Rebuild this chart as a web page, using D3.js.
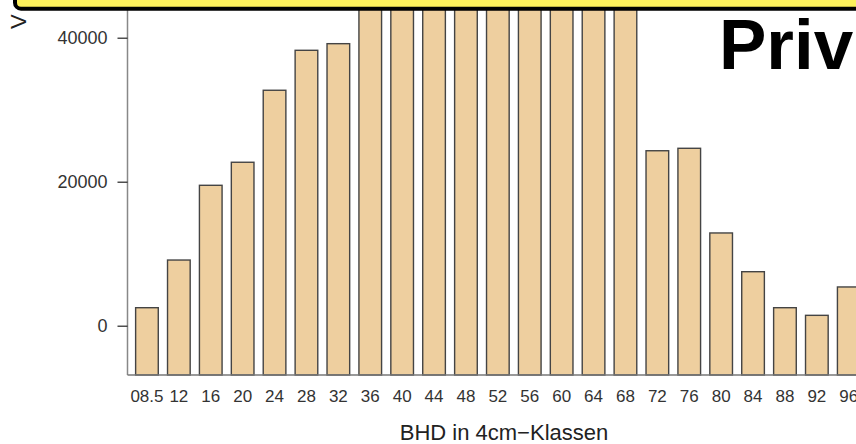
<html>
<script src="https://d3js.org/d3.v7.min.js"></script>
<style>
body { margin: 0; background: #fff; }
svg { font-family: "Liberation Sans", Arial, sans-serif; display: block; }
.tick text { fill: #333; }
</style>
<body>
<svg width="856" height="444" id="chart"></svg>
<script>
// BHD classes (cm) and stock per class
var classes = ["08.5","12","16","20","24","28","32","36","40","44","48","52",
               "56","60","64","68","72","76","80","84","88","92","96"];
var vorrat  = [2500, 9120, 19500, 22700, 32700, 38250, 39170, 45500, 49000, 52000,
               54000, 55000, 53500, 51000, 48000, 44500, 24300, 24640, 12880, 7500,
               2500, 1440, 5380];
var yTicks  = [0, 20000, 40000];

var svg = d3.select("#chart");
var base = 375; // bottom of plot box

var x = d3.scaleBand()
    .domain(classes)
    .range([131, 131 + 23 * 31.9])
    .paddingInner(0.29)
    .paddingOuter(0.145);

var y = d3.scaleLinear()
    .domain([0, 40000])
    .range([325.7, 37.7]);

// bars
svg.append("g")
  .selectAll("rect")
  .data(vorrat)
  .enter()
  .append("rect")
  .attr("x", function(d, i) { return x(classes[i]); })
  .attr("y", function(d) { return y(d); })
  .attr("width", x.bandwidth())
  .attr("height", function(d) { return base - y(d); })
  .attr("fill", "#eecf9f")
  .attr("stroke", "#444")
  .attr("stroke-width", 1.4);

// L-shaped box
svg.append("line").attr("x1", 127.5).attr("x2", 127.5).attr("y1", 0).attr("y2", base)
   .attr("stroke", "#888").attr("stroke-width", 1.5);
svg.append("line").attr("x1", 127.5).attr("x2", 856).attr("y1", base).attr("y2", base)
   .attr("stroke", "#777").attr("stroke-width", 1.5);

// y axis
var ya = svg.append("g")
  .attr("transform", "translate(127.5,0)")
  .call(d3.axisLeft(y).tickValues(yTicks).tickFormat(d3.format("d")).tickSize(10).tickPadding(10));
ya.select(".domain").remove();
ya.selectAll(".tick line").attr("stroke", "#222").attr("stroke-width", 1.2);
ya.selectAll("text").style("font-size", "18px");

// x labels
var xa = svg.append("g")
  .attr("transform", "translate(0," + base + ")")
  .call(d3.axisBottom(x).tickSize(0).tickPadding(14.6));
xa.select(".domain").remove();
xa.selectAll("text").style("font-size", "17px");

// axis titles
svg.append("text")
  .attr("x", 504).attr("y", 439.5)
  .attr("text-anchor", "middle")
  .style("font-size", "22px")
  .attr("fill", "#222")
  .text("BHD in 4cm\u2212Klassen");

svg.append("text")
  .attr("transform", "translate(26,29) rotate(-90)")
  .attr("text-anchor", "start")
  .style("font-size", "22px")
  .attr("fill", "#222")
  .text("V");

// yellow banner on top
svg.append("rect")
  .attr("x", 15).attr("y", -20)
  .attr("width", 900).attr("height", 28.7)
  .attr("rx", 6)
  .attr("fill", "#fcf05c")
  .attr("stroke", "#000")
  .attr("stroke-width", 4);

svg.append("text")
  .attr("x", 719).attr("y", 68.5)
  .style("font-size", "71px")
  .style("font-weight", "bold")
  .attr("fill", "#000")
  .text("Priv");
</script>
</body>
</html>
